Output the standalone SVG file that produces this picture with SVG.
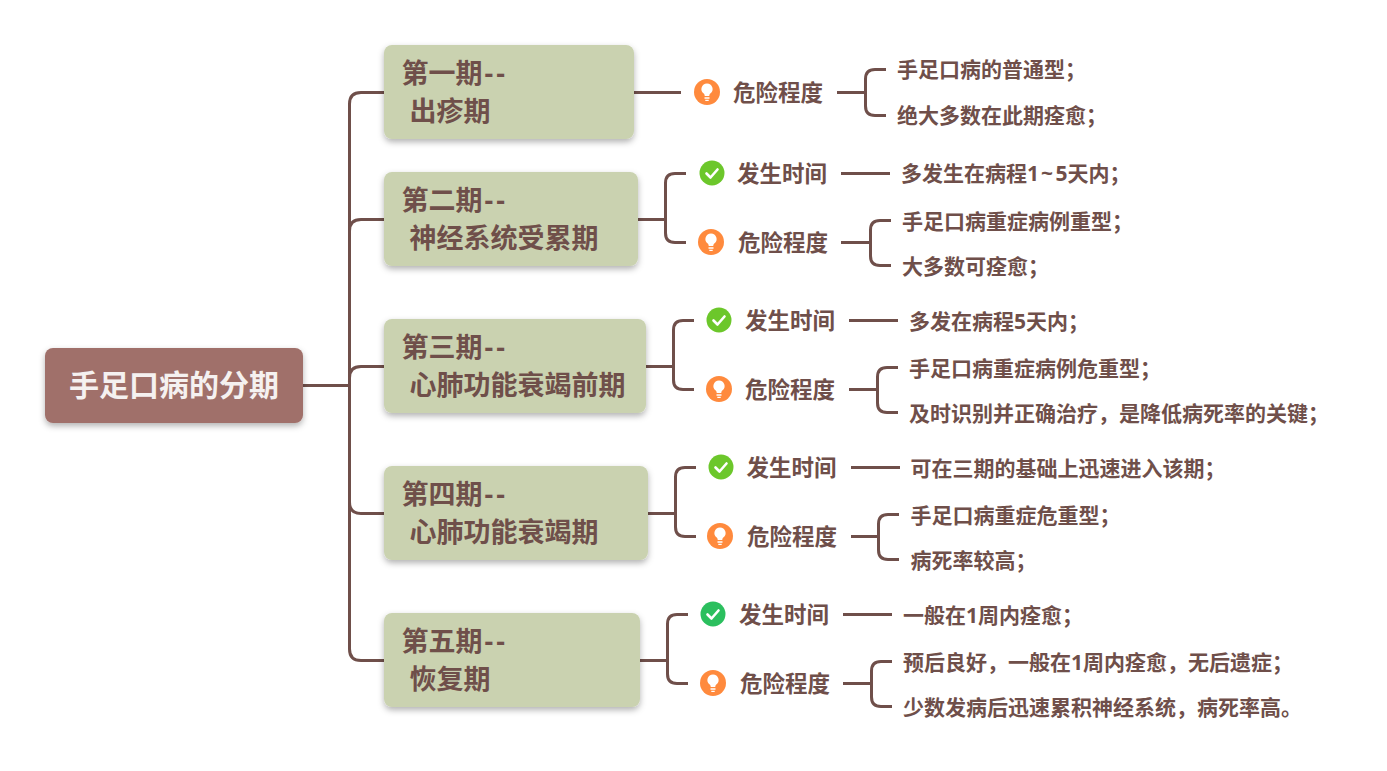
<svg xmlns="http://www.w3.org/2000/svg" width="1387" height="771" viewBox="0 0 1387 771">
<style>
text{font-family:"Open Sans","Noto Sans CJK SC",sans-serif;font-weight:700;fill:#6f4f4a}
.root{font-size:30px;fill:#f5f1f0}
.l2{font-size:27px}
.l3{font-size:22.500px}
.l4{font-size:21px}
.dash{letter-spacing:3px}
.til{letter-spacing:2.500px}
.box{fill:#cad2b0;filter:url(#sh)}
.rootbox{fill:#a0706a;filter:url(#sh)}
#conn path{fill:none;stroke:#6f4f4a;stroke-width:3}
.tick{fill:none;stroke:#fff;stroke-width:2.600;stroke-linecap:round;stroke-linejoin:round}
</style>
<defs>
<filter id="sh" x="-10%" y="-15%" width="120%" height="135%"><feDropShadow dx="0" dy="3" stdDeviation="3" flood-color="#000" flood-opacity=".3"/></filter>
<g id="bulb"><circle r="13" fill="#ff8a3d"/><path d="M0-8.500a5.600 5.600 0 0 1 3.300 10.100c-.8.700-1 1.500-1 2.400h-4.600c0-.9-.2-1.700-1-2.400A5.600 5.600 0 0 1 0-8.500z" fill="#fff"/><path d="M-2.500 6h5M-1.700 8.300h3.400" stroke="#fff" stroke-width="1.300" fill="none"/></g>
<g id="chk"><circle r="12.500" fill="#6cc72b"/><path class="tick" d="M-5.500.5-1.500 4.500 5.500-3.500"/></g>
<g id="chk2"><circle r="12.500" fill="#2bbf5e"/><path class="tick" d="M-5.500.5-1.500 4.500 5.500-3.500"/></g>
</defs>
<rect width="1387" height="771" fill="#fff"/>
<g id="conn">
<path d="M303 385.500H349"/>
<path d="M384 92.500H361Q349.500 92.500 349.500 104V649Q349.500 660.500 361 660.500H384"/>
<path d="M384 219.500H361Q349.500 219.500 349.500 231"/>
<path d="M349.500 385.500V378Q349.500 366.500 361 366.500H384"/>
<path d="M349.500 502Q349.500 513.500 361 513.500H384"/>
<path d="M634 92.500H681"/>
<path d="M837 92.500H865.500"/><path d="M886 69.500H875Q865.500 69.500 865.500 79V106Q865.500 115.500 875 115.500H886"/>
<path d="M638 219.500H665.500"/><path d="M686 173.500H675Q665.500 173.500 665.500 183V233Q665.500 242.500 675 242.500H686"/>
<path d="M841 173.500H890"/><path d="M841 242.500H870.500"/><path d="M891 220.500H880Q870.500 220.500 870.500 230V256Q870.500 265.500 880 265.500H891"/>
<path d="M646 366.500H673.500"/><path d="M694 320.500H683Q673.500 320.500 673.500 330V380Q673.500 389.500 683 389.500H694"/>
<path d="M849 320.500H898"/><path d="M849 389.500H877.500"/><path d="M898 367.500H887Q877.500 367.500 877.500 377V403Q877.500 412.500 887 412.500H898"/>
<path d="M648 513.500H675.500"/><path d="M696 467.500H685Q675.500 467.500 675.500 477V527Q675.500 536.500 685 536.500H696"/>
<path d="M851 467.500H900"/><path d="M851 536.500H878.500"/><path d="M899 514.500H888Q878.500 514.500 878.500 524V550Q878.500 559.500 888 559.500H899"/>
<path d="M640 660.500H667.500"/><path d="M688 614.500H677Q667.500 614.500 667.500 624V674Q667.500 683.500 677 683.500H688"/>
<path d="M843 614.500H892"/><path d="M843 683.500H871.500"/><path d="M892 661.500H881Q871.500 661.500 871.500 671V697Q871.500 706.500 881 706.500H892"/>
</g>
<g id="root"><rect class="rootbox" x="45" y="348" width="258" height="75" rx="8"/><text class="root" x="69" y="396">手足口病的分期</text></g>
<g id="p1"><rect class="box" x="384" y="45" width="250" height="94" rx="8"/><text class="l2" x="401.500" y="83">第一期<tspan class="dash" dx="2">--</tspan></text><text class="l2" x="409.500" y="121">出疹期</text></g>
<g id="p2"><rect class="box" x="384" y="172" width="254" height="94" rx="8"/><text class="l2" x="401.500" y="210">第二期<tspan class="dash" dx="2">--</tspan></text><text class="l2" x="409.500" y="248">神经系统受累期</text></g>
<g id="p3"><rect class="box" x="384" y="319" width="262" height="94" rx="8"/><text class="l2" x="401.500" y="357">第三期<tspan class="dash" dx="2">--</tspan></text><text class="l2" x="409.500" y="395">心肺功能衰竭前期</text></g>
<g id="p4"><rect class="box" x="384" y="466" width="264" height="94" rx="8"/><text class="l2" x="401.500" y="504">第四期<tspan class="dash" dx="2">--</tspan></text><text class="l2" x="409.500" y="542">心肺功能衰竭期</text></g>
<g id="p5"><rect class="box" x="384" y="613" width="256" height="94" rx="8"/><text class="l2" x="401.500" y="651">第五期<tspan class="dash" dx="2">--</tspan></text><text class="l2" x="409.500" y="689">恢复期</text></g>
<g id="p1-risk"><use href="#bulb" x="707" y="92"/><text class="l3" x="733" y="101">危险程度</text></g>
<g id="p1-a"><text class="l4" x="897" y="77">手足口病的普通型；</text></g>
<g id="p1-b"><text class="l4" x="897" y="123">绝大多数在此期痊愈；</text></g>
<g id="p2-time"><use href="#chk" x="712" y="173"/><text class="l3" x="737" y="182">发生时间</text></g>
<g id="p2-t1"><text class="l4" x="901" y="181">多发生在病程1<tspan class="til" dx="2">~</tspan>5天内；</text></g>
<g id="p2-risk"><use href="#bulb" x="711" y="242"/><text class="l3" x="738" y="251">危险程度</text></g>
<g id="p2-a"><text class="l4" x="902" y="229">手足口病重症病例重型；</text></g>
<g id="p2-b"><text class="l4" x="902" y="274">大多数可痊愈；</text></g>
<g id="p3-time"><use href="#chk" x="719" y="320"/><text class="l3" x="745" y="329">发生时间</text></g>
<g id="p3-t1"><text class="l4" x="909" y="329">多发在病程5天内；</text></g>
<g id="p3-risk"><use href="#bulb" x="719" y="389"/><text class="l3" x="745" y="398">危险程度</text></g>
<g id="p3-a"><text class="l4" x="909" y="376">手足口病重症病例危重型；</text></g>
<g id="p3-b"><text class="l4" x="909" y="421">及时识别并正确治疗，是降低病死率的关键；</text></g>
<g id="p4-time"><use href="#chk" x="721" y="467"/><text class="l3" x="746.500" y="476">发生时间</text></g>
<g id="p4-t1"><text class="l4" x="910.500" y="476">可在三期的基础上迅速进入该期；</text></g>
<g id="p4-risk"><use href="#bulb" x="720" y="536"/><text class="l3" x="747" y="545">危险程度</text></g>
<g id="p4-a"><text class="l4" x="910.500" y="523">手足口病重症危重型；</text></g>
<g id="p4-b"><text class="l4" x="910.500" y="568">病死率较高；</text></g>
<g id="p5-time"><use href="#chk2" x="713" y="614"/><text class="l3" x="739" y="623">发生时间</text></g>
<g id="p5-t1"><text class="l4" x="903" y="623">一般在1周内痊愈；</text></g>
<g id="p5-risk"><use href="#bulb" x="713" y="683"/><text class="l3" x="740" y="692">危险程度</text></g>
<g id="p5-a"><text class="l4" x="903" y="670">预后良好，一般在1周内痊愈，无后遗症；</text></g>
<g id="p5-b"><text class="l4" x="903" y="715">少数发病后迅速累积神经系统，病死率高。</text></g>
</svg>
